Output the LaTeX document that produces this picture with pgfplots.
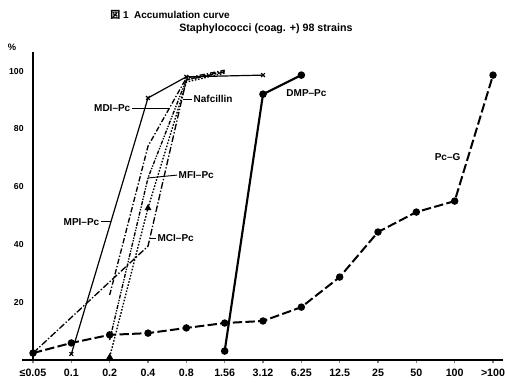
\documentclass[border=0pt]{standalone}
\usepackage{fontspec}
\setmainfont{Liberation Sans}
\newfontfamily\cjk{Noto Sans CJK JP}
\usepackage{pgfplots}
\pgfplotsset{compat=1.18}
\begin{document}
\begin{tikzpicture}
\begin{axis}[
  at={(0,0)}, anchor=south west,
  scale only axis,
  width=352.2pt, height=231pt,
  xmin=0, xmax=12.25, ymin=0, ymax=106.6,
  axis x line=bottom, axis y line=left,
  axis line style={-, line width=1pt},
  xtick={0,...,12},
  xticklabels={≤0.05,0.1,0.2,0.4,0.8,1.56,3.12,6.25,12.5,25,50,100,>100},
  ytick={20,40,60,80,100},
  tick align=outside,
  major tick length=2.5pt,
  ytick style={draw=none},
  xtick style={line width=0.8pt},
  /pgf/number format/assume math mode=true,
  xticklabel style={font=\bfseries\fontsize{8}{9}\selectfont, yshift=-1pt},
  yticklabel style={font=\bfseries\fontsize{6.5}{7}\selectfont, xshift=-1pt},
  clip=false,
]
% Pc-G
\addplot[black, line width=1.5pt, dash pattern=on 7pt off 2.5pt, mark=*, mark size=2pt, mark options={solid}]
  coordinates {(0,2.4)(1,5.9)(2,8.7)(3,9.3)(4,11.1)(5,12.8)(6,13.5)(7,18.3)(8,28.7)(9,44.3)(10,51.2)(11,55.0)(12,98.6)};
% DMP-Pc
\addplot[black, line width=1.6pt, mark=*, mark size=2pt]
  coordinates {(5,3.1)(6,92.0)(7,98.6)};
% MPI-Pc
\addplot[black, line width=0.9pt, mark=x, mark size=2pt]
  coordinates {(1,2.1)(3,90.7)(4,98.0)(6,98.6)};
% MDI-Pc
\addplot[black, line width=1pt, dash pattern=on 4pt off 1.5pt on 1pt off 1.5pt]
  coordinates {(2,22.5)(3,74)(4,97.6)(5,100.3)};
% MFI-Pc
\addplot[black, line width=1pt, dash pattern=on 3pt off 1pt on 1pt off 1pt on 1pt off 1pt]
  coordinates {(2,6.9)(3,63)(4,97)(5,100)};
% MCI-Pc
\addplot[black, line width=1pt, dash pattern=on 5pt off 1.5pt on 1pt off 1.5pt]
  coordinates {(0,2.4)(3,39.4)(4,96.9)(5,99.7)};
% Nafcillin
\addplot[black, line width=1pt, dash pattern=on 1.2pt off 1.2pt, mark=triangle*, mark size=2pt, mark options={solid}, mark indices={1,2}]
  coordinates {(2,1)(3,52.6)(4,96.2)(5,99.3)};
% labels
\node[anchor=east, font=\bfseries\fontsize{7.5}{8}\selectfont, inner sep=1pt] at (axis cs:2.58,87.2) {MDI--Pc};
\draw[black, line width=0.7pt] (axis cs:2.58,87.2) -- (axis cs:3.55,87.2);
\node[anchor=west, font=\bfseries\fontsize{7.5}{8}\selectfont, inner sep=1pt] at (axis cs:4.15,90.3) {Nafcillin};
\draw[black, line width=0.7pt] (axis cs:3.9,90.3) -- (axis cs:4.15,90.3);
\node[anchor=west, font=\bfseries\fontsize{7.5}{8}\selectfont, inner sep=1pt] at (axis cs:3.76,64.0) {MFI--Pc};
\draw[black, line width=0.7pt] (axis cs:3.0,63) -- (axis cs:3.76,64.0);
\node[anchor=east, font=\bfseries\fontsize{7.5}{8}\selectfont, inner sep=1pt] at (axis cs:1.77,47.8) {MPI--Pc};
\draw[black, line width=0.7pt] (axis cs:1.77,47.8) -- (axis cs:2.03,47.8);
\node[anchor=west, font=\bfseries\fontsize{7.5}{8}\selectfont, inner sep=1pt] at (axis cs:3.21,42.2) {MCI--Pc};
\draw[black, line width=0.7pt] (axis cs:3.04,42.2) -- (axis cs:3.21,42.2);
\node[anchor=west, font=\bfseries\fontsize{7.5}{8}\selectfont, inner sep=1pt] at (axis cs:6.57,92.4) {DMP--Pc};
\node[anchor=west, font=\bfseries\fontsize{7.5}{8}\selectfont, inner sep=1pt] at (axis cs:10.44,70.2) {Pc--G};
\end{axis}
% left extension of x axis line
\draw[line width=1pt] (-11*0.75pt,0) -- (0,0);
\node[font=\bfseries\fontsize{7}{8}\selectfont] at (-21*0.75pt, 313*0.75pt) {\%};
\node[anchor=west, font=\bfseries\fontsize{7.5}{8}\selectfont, inner sep=0pt] at (77*0.75pt, 345*0.75pt) {{\cjk 図} 1 \ Accumulation curve};
\node[anchor=west, font=\bfseries\fontsize{8}{9}\selectfont, inner sep=0pt] at (146*0.75pt, 331*0.75pt) {Staphylococci (coag. +) 98 strains};
\pgfresetboundingbox
\path (-33*0.75pt,-22*0.75pt) rectangle (472*0.75pt,360*0.75pt);
\end{tikzpicture}
\end{document}
